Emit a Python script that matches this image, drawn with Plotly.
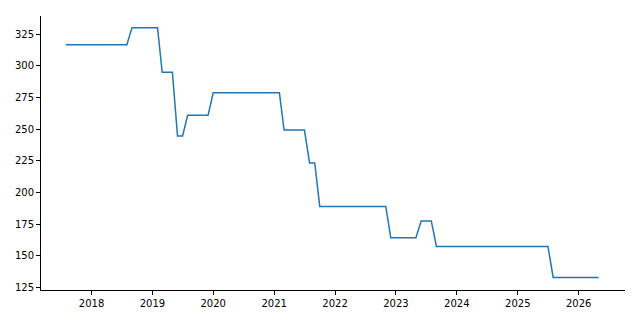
import plotly.graph_objects as go

dates = [
    "2017-08-01", "2018-08-01", "2018-09-01", "2019-02-01", "2019-03-01",
    "2019-05-01", "2019-06-01", "2019-07-01", "2019-08-01", "2019-12-01",
    "2020-01-01", "2021-02-01", "2021-03-01", "2021-07-01", "2021-08-01",
    "2021-09-01", "2021-10-01", "2022-11-01", "2022-12-01", "2023-05-01",
    "2023-06-01", "2023-08-01", "2023-09-01", "2025-07-01", "2025-08-01",
    "2026-05-01",
]
values = [
    316.8, 316.8, 330.3, 330.3, 295.0,
    295.0, 244.6, 244.6, 261.0, 261.0,
    278.8, 278.8, 249.3, 249.3, 223.3,
    223.3, 189.0, 189.0, 164.2, 164.2,
    177.5, 177.5, 157.3, 157.3, 132.8,
    132.8,
]
y_ticks = [125, 150, 175, 200, 225, 250, 275, 300, 325]

fig = go.Figure()
fig.add_trace(go.Scatter(
    x=dates, y=values, mode="lines",
    line=dict(color="#1f77b4", width=1.5),
    showlegend=False,
))

axis_common = dict(
    showgrid=False, zeroline=False, showline=True, linecolor="black",
    linewidth=1, ticks="outside", ticklen=4, tickwidth=1, tickcolor="black",
    mirror=False,
    tickfont=dict(family="DejaVu Sans", size=10, color="black"),
)

fig.update_layout(
    width=640, height=320,
    margin=dict(l=41, r=15, t=16, b=30),
    paper_bgcolor="white", plot_bgcolor="white",
    xaxis=dict(type="date", range=["2017-03-04", "2026-10-06"],
               dtick="M12", tick0="2018-01-01", tickformat="%Y", **axis_common),
    yaxis=dict(range=[122.9, 339.5], tickvals=y_ticks, **axis_common),
)

fig.write_html("out.html")
